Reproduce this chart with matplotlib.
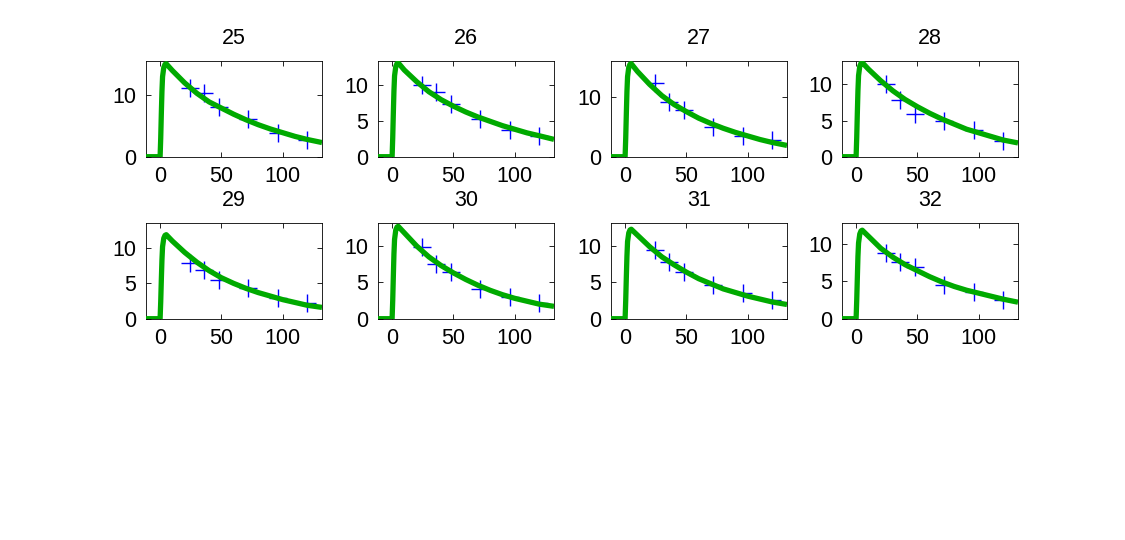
import matplotlib
matplotlib.use("Agg")
import matplotlib.pyplot as plt

plt.rcParams['font.family'] = ['Liberation Sans', 'DejaVu Sans']

# subject ids shown as panel titles
subjects = ['25', '26', '27', '28', '29', '30', '31', '32']

# sampling times of the observations
obs_t = [24, 36, 48, 72, 96, 120]

# observed concentrations per panel
obs_25 = [11.1, 10.3, 8.0, 6.1, 3.9, 2.7]
obs_26 = [9.9, 8.9, 7.3, 5.2, 3.7, 2.8]
obs_27 = [12.4, 9.3, 7.9, 5.05, 3.5, 2.8]
obs_28 = [10.0, 7.8, 5.9, 5.0, 3.7, 2.2]
obs_29 = [7.9, 6.9, 5.5, 4.3, 2.9, 2.2]
obs_30 = [9.8, 7.5, 6.4, 4.1, 3.05, 2.15]
obs_31 = [9.45, 7.8, 6.4, 4.65, 3.5, 2.6]
obs_32 = [8.7, 7.5, 6.9, 4.5, 3.5, 2.5]

# fitted curve, read at these times
fit_t = [-11.5, 0, 0.5, 1, 1.5, 2, 3, 4, 5, 10, 20, 30, 40, 50, 60, 70, 80, 90, 100, 110, 120, 132]

fit_25 = [0, 0, 3.0, 7.0, 10.6, 13.0, 14.5, 15.0, 15.1, 14.0, 12.0, 10.3, 8.9, 7.9, 6.9, 6.0, 5.2, 4.5, 3.9, 3.3, 2.8, 2.3]
fit_26 = [0, 0, 2.6, 6.0, 9.1, 11.2, 12.5, 12.9, 13.0, 12.0, 10.4, 9.0, 7.9, 7.0, 6.2, 5.5, 4.9, 4.3, 3.8, 3.3, 2.9, 2.4]
fit_27 = [0, 0, 3.1, 7.2, 11.0, 13.5, 15.1, 15.6, 15.7, 14.4, 12.2, 10.3, 8.8, 7.6, 6.5, 5.6, 4.8, 4.1, 3.5, 2.9, 2.4, 1.9]
fit_28 = [0, 0, 2.6, 6.0, 9.1, 11.2, 12.5, 12.9, 13.0, 12.1, 10.5, 9.1, 7.9, 6.9, 6.0, 5.2, 4.5, 3.8, 3.3, 2.8, 2.3, 1.9]
fit_29 = [0, 0, 2.4, 5.5, 8.3, 10.2, 11.4, 11.8, 11.9, 11.0, 9.4, 8.0, 6.8, 5.8, 5.0, 4.3, 3.7, 3.2, 2.7, 2.3, 1.9, 1.6]
fit_30 = [0, 0, 2.5, 5.8, 8.9, 10.9, 12.2, 12.6, 12.7, 11.8, 10.0, 8.5, 7.3, 6.3, 5.4, 4.6, 3.9, 3.3, 2.8, 2.4, 2.0, 1.7]
fit_31 = [0, 0, 2.5, 5.7, 8.6, 10.6, 11.8, 12.2, 12.3, 11.5, 9.9, 8.5, 7.4, 6.4, 5.5, 4.8, 4.1, 3.6, 3.1, 2.7, 2.3, 1.95]
fit_32 = [0, 0, 2.4, 5.4, 8.3, 10.1, 11.3, 11.7, 11.8, 11.0, 9.4, 8.2, 7.2, 6.4, 5.6, 4.9, 4.3, 3.8, 3.4, 3.0, 2.6, 2.2]

obs_all = [obs_25, obs_26, obs_27, obs_28, obs_29, obs_30, obs_31, obs_32]
fit_all = [fit_25, fit_26, fit_27, fit_28, fit_29, fit_30, fit_31, fit_32]

# upper y limit of each panel
ytop = [15.6, 13.3, 16.2, 13.26, 13.6, 13.2, 13.2, 12.8]

W, H = 1125, 540
fig = plt.figure(figsize=(W / 100, H / 100), dpi=100)

lefts = [146, 378, 611, 842]
tops = [60.7, 222.7]
aw, ah = 176, 96

for i in range(8):
    r, c = divmod(i, 4)
    ax = fig.add_axes([lefts[c] / W, (H - tops[r] - ah) / H, aw / W, ah / H])
    ax.plot(obs_t, obs_all[i], '+', color='#0000ff', markersize=13, mew=1.0, zorder=2)
    ax.plot(fit_t, fit_all[i], '-', color='#00aa00', lw=3.8, zorder=3,
            solid_joinstyle='round', solid_capstyle='butt')
    ax.set_xlim(-11.5, 132)
    ax.set_ylim(0, ytop[i])
    ax.set_xticks([0, 50, 100])
    if ytop[i] > 15:
        ax.set_yticks([0, 10])
    else:
        ax.set_yticks([0, 5, 10])
    ax.tick_params(direction='in', top=True, right=True, length=3.5, width=0.6,
                   labelsize=15.5, pad=7)
    for s in ax.spines.values():
        s.set_linewidth(0.6)
    ax.set_title(subjects[i], fontsize=15.5, pad=12)

fig.savefig('out.png', dpi=100)
